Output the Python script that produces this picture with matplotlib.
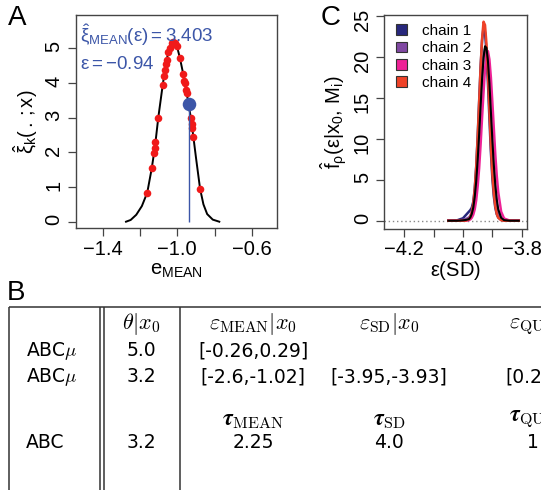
import matplotlib

matplotlib.use("Agg")
import matplotlib.patches as mpatches
import matplotlib.pyplot as plt

plt.rcParams["font.family"] = ["Liberation Sans", "DejaVu Sans"]
plt.rcParams["mathtext.fontset"] = "custom"
plt.rcParams["mathtext.rm"] = "Liberation Sans"
plt.rcParams["mathtext.it"] = "Liberation Sans"
plt.rcParams["mathtext.bf"] = "Liberation Sans:bold"

# ---- panel A: kernel curve of e_MEAN with accepted draws ----
CURVE_X = [-1.275, -1.25, -1.22, -1.19, -1.161, -1.137, -1.12, -1.102, -1.078, -1.061,
           -1.048, -1.030, -1.017, -1.003, -0.986, -0.968, -0.950, -0.940, -0.927,
           -0.914, -0.900, -0.878, -0.860, -0.840, -0.810, -0.775]
CURVE_Y = [0.0, 0.05, 0.20, 0.45, 0.84, 1.54, 2.15, 3.00, 3.95, 4.55,
           4.90, 5.15, 5.20, 5.08, 4.72, 4.25, 3.72, 3.40, 2.98,
           2.45, 1.85, 0.95, 0.50, 0.22, 0.06, 0.0]
DRAW_X = [-1.161, -1.137, -1.125, -1.120, -1.117, -1.102, -1.078, -1.071, -1.066, -1.061,
          -1.057, -1.048, -1.039, -1.030, -1.021, -1.012, -1.003, -0.986, -0.968, -0.962,
          -0.959, -0.953, -0.950, -0.927, -0.923, -0.920, -0.914, -0.878]
DRAW_Y = [0.84, 1.54, 1.97, 2.13, 2.29, 3.00, 3.95, 4.20, 4.37, 4.55,
          4.66, 4.90, 5.02, 5.15, 5.18, 5.16, 5.08, 4.72, 4.25, 4.07,
          3.99, 3.81, 3.72, 2.98, 2.82, 2.70, 2.45, 0.95]
EPS_MEAN = -0.94
XI_MEAN = 3.403

# ---- panel C: posterior density of eps(SD) per chain ----
EPS_SD = [-4.05, -4.02, -4.00, -3.99, -3.98, -3.975, -3.97, -3.965, -3.96, -3.955,
          -3.95, -3.945, -3.94, -3.935, -3.93, -3.925, -3.92, -3.915, -3.91, -3.905,
          -3.90, -3.895, -3.89, -3.885, -3.88, -3.87, -3.86, -3.84, -3.81]
CHAIN_1 = [0.0, 0.05, 0.3, 0.7, 1.1, 1.3, 1.6, 2.3, 3.9, 6.6,
           10.3, 14.6, 18.8, 22.0, 23.6, 23.0, 20.6, 16.8, 12.5, 8.4,
           5.2, 3.0, 1.6, 0.8, 0.4, 0.1, 0.02, 0.0, 0.0]
CHAIN_2 = [0.0, 0.02, 0.1, 0.2, 0.4, 0.6, 1.1, 1.9, 3.3, 5.3,
           8.0, 11.2, 14.6, 17.6, 20.0, 21.0, 20.5, 18.6, 15.7, 12.2,
           8.8, 5.9, 3.7, 2.1, 1.1, 0.25, 0.05, 0.0, 0.0]
CHAIN_3 = [0.0, 0.0, 0.0, 0.01, 0.07, 0.17, 0.37, 0.74, 1.4, 2.5,
           4.2, 6.4, 9.3, 12.6, 15.7, 18.5, 20.2, 20.7, 19.7, 17.5,
           14.5, 11.3, 8.1, 5.5, 3.5, 1.1, 0.27, 0.01, 0.0]
CHAIN_4 = [0.0, 0.0, 0.0, 0.02, 0.18, 0.45, 1.0, 2.0, 3.8, 6.5,
           10.1, 14.4, 18.7, 22.2, 24.3, 23.9, 21.6, 17.9, 13.5, 9.2,
           5.8, 3.4, 1.8, 0.85, 0.37, 0.06, 0.0, 0.0, 0.0]
ALL_CHAINS = [0.0, 0.0, 0.05, 0.1, 0.19, 0.41, 0.85, 1.6, 2.9, 4.8,
              7.4, 10.5, 14.0, 17.3, 19.9, 21.3, 21.1, 19.5, 16.8, 13.3,
              9.9, 6.8, 4.4, 2.6, 1.4, 0.36, 0.07, 0.0, 0.0]
CHAIN_LABELS = ["chain 1", "chain 2", "chain 3", "chain 4"]
CHAIN_COLORS = ["#27277c", "#8048a2", "#ee2296", "#ee4228"]

# ---- panel B: summary table ----
ROW_LABELS = [r"ABC$\mu$", r"ABC$\mu$", "ABC"]
THETA = ["5.0", "3.2", "3.2"]
EPS_MEAN_CI = ["[-0.26,0.29]", "[-2.6,-1.02]", "2.25"]
EPS_SD_CI = ["", "[-3.95,-3.93]", "4.0"]
EPS_QUO_CI = ["", "[0.2", "1"]
HEAD = [r"$\theta|x_0$", r"$\varepsilon_{\mathrm{MEAN}}|x_0$",
        r"$\varepsilon_{\mathrm{SD}}|x_0$", r"$\varepsilon_{\mathrm{QUO}}|x_0$"]
TAU_HEAD = [r"$\boldsymbol{\tau}_{\mathrm{MEAN}}$", r"$\boldsymbol{\tau}_{\mathrm{SD}}$",
            r"$\boldsymbol{\tau}_{\mathrm{QUO}}$"]

W, H = 541, 490
FRAME = "#444444"
BLUE = "#3c56a8"
TICK_FS = 14.5


def _frame(ax):
    for s in ax.spines.values():
        s.set_color(FRAME)
        s.set_linewidth(1.0)
    ax.tick_params(direction="out", length=6, width=0.9, color=FRAME,
                   labelsize=TICK_FS, pad=2)
    ax.tick_params(axis="y", labelrotation=90, pad=3)


def _fig_axes(fig, l, t, r, b):
    return fig.add_axes([l / W, 1 - b / H, (r - l) / W, (b - t) / H])


fig = plt.figure(figsize=(W / 100, H / 100), dpi=100)

# panel A
axA = _fig_axes(fig, 76, 15, 277.5, 228.5)
axA.plot(CURVE_X, CURVE_Y, color="black", lw=1.4, zorder=2)
axA.scatter(DRAW_X, DRAW_Y, s=30, color="#f01a1a", lw=0, zorder=3)
axA.vlines(EPS_MEAN, 0, XI_MEAN, color=BLUE, lw=1.0, zorder=4)
axA.scatter([EPS_MEAN], [XI_MEAN], s=95, color=BLUE, lw=0, zorder=5)
axA.set_xlim(-1.543, -0.463)
axA.set_ylim(-0.196, 5.96)
axA.set_xticks([-1.4, -1.2, -1.0, -0.8, -0.6])
axA.set_xticklabels(["\u22121.4", "", "\u22121.0", "", "\u22120.6"])
axA.set_yticks([0, 1, 2, 3, 4, 5])
_frame(axA)
axA.set_xlabel(r"e$_{\mathrm{MEAN}}$", fontsize=TICK_FS, labelpad=2)
axA.set_ylabel(r"$\hat{\xi}_k(\,.\,;x)$", fontsize=TICK_FS, labelpad=3)
axA.text(0.02, 0.905, r"$\hat{\xi}_{\mathrm{MEAN}}(\varepsilon) = %.3f$" % XI_MEAN,
         transform=axA.transAxes, color=BLUE, fontsize=13.5, va="center", ha="left")
axA.text(0.02, 0.766, r"$\varepsilon = -%.2f$" % abs(EPS_MEAN),
         transform=axA.transAxes, color=BLUE, fontsize=13.5, va="center", ha="left")

# panel C
axC = _fig_axes(fig, 384.3, 15, 526.7, 229)
axC.axhline(0, color="#888888", lw=1.0, ls=(0, (1, 2)), zorder=1)
for ys, c in zip([CHAIN_1, CHAIN_2, CHAIN_3, CHAIN_4], CHAIN_COLORS):
    axC.plot(EPS_SD, ys, color=c, lw=1.8, zorder=2)
axC.plot(EPS_SD, ALL_CHAINS, color="black", lw=1.5, zorder=3)
axC.set_xlim(-4.268, -3.783)
axC.set_ylim(-1.01, 25.12)
axC.set_xticks([-4.2, -4.1, -4.0, -3.9, -3.8])
axC.set_xticklabels(["\u22124.2", "", "\u22124.0", "", "\u22123.8"])
axC.set_yticks([0, 5, 10, 15, 20, 25])
_frame(axC)
axC.set_xlabel(r"$\varepsilon$(SD)", fontsize=TICK_FS, labelpad=0)
axC.set_ylabel(r"$\hat{f}_{\rho}(\varepsilon|\mathrm{x}_0,\,\mathrm{M}_\mathrm{i})$",
               fontsize=TICK_FS, labelpad=2)
handles = [mpatches.Patch(facecolor=c, edgecolor="#333333", lw=0.8) for c in CHAIN_COLORS]
axC.legend(handles, CHAIN_LABELS, loc="upper left", bbox_to_anchor=(0.085, 0.958),
           frameon=False, fontsize=11, handlelength=0.7, handleheight=0.7,
           handletextpad=1.0, labelspacing=0.22, borderpad=0, borderaxespad=0)

# panel B: table drawn in pixel coordinates
axT = fig.add_axes([0, 0, 1, 1], zorder=-1)
axT.set_xlim(0, W)
axT.set_ylim(H, 0)
axT.set_axis_off()
LC = "#333333"
axT.hlines(306.5, 8.5, W, color=LC, lw=1.1)
for xv in [8.5, 99.5, 103.5, 179.5]:
    axT.vlines(xv, 306.5, H, color=LC, lw=1.1)

TFS = 13.5
HFS = 16
SANS = "DejaVu Sans"
COLS = [141.5, 253, 389]
ROW_Y = [350.7, 376.6, 442.2]
for x, h in zip(COLS, HEAD[:3]):
    axT.text(x, 323.8, h, fontsize=HFS, ha="center", va="center", math_fontfamily="cm")
axT.text(509, 323.8, HEAD[3], fontsize=HFS, ha="left", va="center", math_fontfamily="cm")
for x, h in zip(COLS[1:], TAU_HEAD[:2]):
    axT.text(x, 419.8, h, fontsize=HFS + 0.5, ha="center", va="center", math_fontfamily="cm")
axT.text(509, 419.8, TAU_HEAD[2], fontsize=HFS + 0.5, ha="left", va="center",
         math_fontfamily="cm")
for i, y in enumerate(ROW_Y):
    axT.text(26, y, ROW_LABELS[i], fontsize=TFS, ha="left", va="center",
             family=SANS, math_fontfamily="cm")
    axT.text(COLS[0], y, THETA[i], fontsize=TFS, ha="center", va="center", family=SANS)
    axT.text(COLS[1], y, EPS_MEAN_CI[i], fontsize=TFS, ha="center", va="center", family=SANS)
    axT.text(COLS[2], y, EPS_SD_CI[i], fontsize=TFS, ha="center", va="center", family=SANS)
    axT.text(527 if i == 2 else 505, y, EPS_QUO_CI[i], fontsize=TFS, ha="left",
             va="center", family=SANS)

# panel letters
for letter, x, y in [("A", 17, 18), ("C", 331, 18), ("B", 16, 293)]:
    fig.text(x / W, 1 - y / H, letter, fontsize=20, ha="center", va="center")

fig.savefig("out.png", dpi=100)
